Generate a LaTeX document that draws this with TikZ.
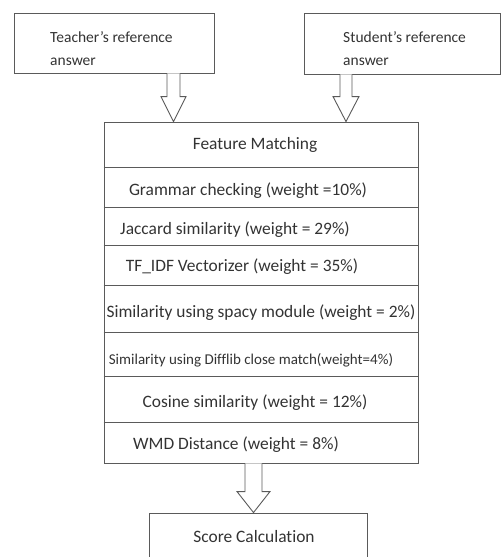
\documentclass[tikz,border=0pt]{standalone}
\usepackage{fontspec}
\setmainfont{Carlito}[Ligatures=NoCommon]
\usetikzlibrary{calc}
\definecolor{linegray}{HTML}{5A5A5A}
\definecolor{textgray}{HTML}{333333}
% hollow block arrow: start, end, shaft half width, head half width, head length
\newcommand{\hollowarrow}[5]{%
  \draw[blockarr] let \p1=#1, \p2=#2 in
    (\x1-#3,\y1) -- (\x1-#3,\y2+#5) -- (\x1-#4,\y2+#5) -- (\x1,\y2)
    -- (\x1+#4,\y2+#5) -- (\x1+#3,\y2+#5) -- (\x1+#3,\y1);}
\begin{document}
\begin{tikzpicture}[x=1pt,y=-1pt,
  box/.style={draw=linegray, line width=0.9pt, inner sep=0pt},
  txt/.style={text=textgray, inner sep=0pt, font=\fontsize{17.4}{23}\selectfont},
  reftxt/.style={txt, anchor=north west, align=left, font=\fontsize{15.5}{23}\selectfont},
  rule/.style={draw=linegray, line width=0.9pt},
  blockarr/.style={draw=linegray, line width=0.9pt, fill=white}]
  \path[use as bounding box, clip] (0,0) rectangle (501,557);
  % input boxes
  \node[box, minimum width=200, minimum height=60] (teacher) at (114,43) {};
  \node[reftxt] (teachertxt) at (50,31) {Teacher's reference\\answer};
  \node[box, minimum width=196, minimum height=61] (student) at (402,43.5) {};
  \node[reftxt] (studenttxt) at (343,31) {Student's reference\\answer};
  % feature matching table
  \node[box, minimum width=314, minimum height=341] (fm) at (261,292.5) {};
  \foreach \y in {167,207,245,285,332,376,422}
    \draw[rule] (fm.west |- 0,\y) -- (fm.east |- 0,\y);
  \foreach \x/\y/\t [count=\i] in {
      255/145/Feature Matching,
      248/191/Grammar checking (weight =10\%),
      235/230/Jaccard similarity (weight = 29\%),
      242/267/TF\_IDF Vectorizer (weight = 35\%),
      261/313/Similarity using spacy module (weight = 2\%),
      255/403/Cosine similarity (weight = 12\%),
      236/445/WMD Distance (weight = 8\%)}
    \node[txt] (row\i) at (\x,\y) {\t};
  \node[txt, font=\fontsize{15}{18}\selectfont] (rowdiff) at (251,360)
    {Similarity using Difflib close match(weight=4\%)};
  % score box
  \node[box, minimum width=218, minimum height=60] (score) at (258,543) {};
  \node[txt] (scoretxt) at (254,537) {Score Calculation};
  % arrows
  \coordinate (ta) at (teacher.south -| 173.5,0);
  \coordinate (sa) at (student.south -| 346,0);
  \coordinate (fa) at (fm.south -| 253.5,0);
  \hollowarrow{(ta)}{(ta |- fm.north)}{6.5pt}{12.5pt}{25pt}
  \hollowarrow{(sa)}{(sa |- fm.north)}{6pt}{13pt}{25pt}
  \hollowarrow{(fa)}{(fa |- score.north)}{8.5pt}{16.5pt}{21pt}
\end{tikzpicture}
\end{document}
